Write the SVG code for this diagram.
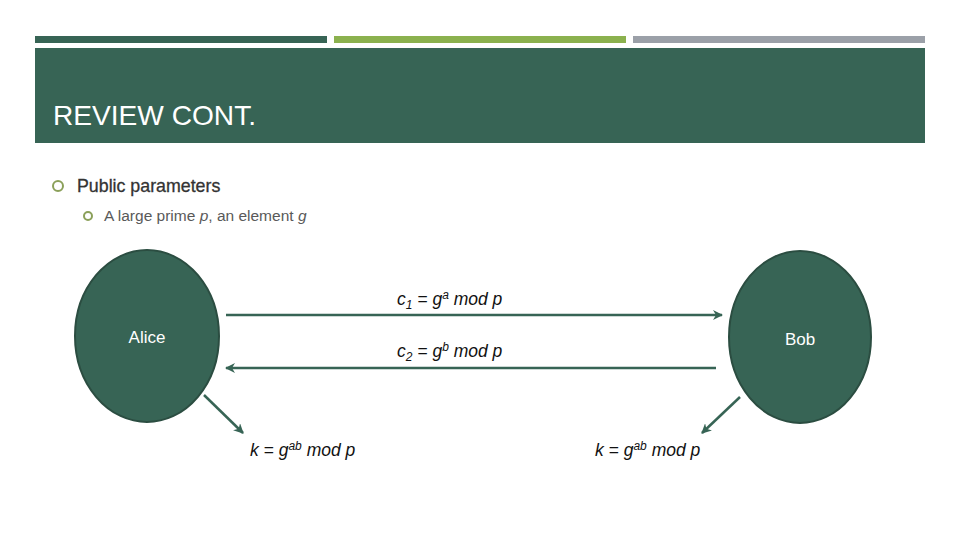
<svg xmlns="http://www.w3.org/2000/svg" width="960" height="540" viewBox="0 0 960 540">
<defs>
<style>
.t{font-family:"Liberation Sans",Arial,sans-serif}
.node{fill:#376455;stroke:#2b4d41;stroke-width:2}
.nl{fill:#ffffff;font-size:17px}
.lbl{fill:#111111;font-size:17.5px;font-style:italic}
.conn{stroke:#376455;stroke-width:2.5;fill:none;marker-end:url(#ah)}
.bul{fill:none;stroke:#8ba05a;stroke-width:2}
</style>
<marker id="ah" viewBox="0 0 10 10" refX="9" refY="5" markerWidth="4" markerHeight="4" orient="auto" markerUnits="strokeWidth">
<path d="M0,0 L10,5 L0,10 L3,5 z" fill="#376455"/>
</marker>
</defs>
<rect width="960" height="540" fill="#ffffff"/>
<rect x="35" y="36" width="292" height="7" fill="#376455"/>
<rect x="334" y="36" width="292" height="7" fill="#8bb14e"/>
<rect x="633" y="36" width="292" height="7" fill="#9ba0a8"/>
<rect x="35" y="48" width="890" height="95" fill="#376455"/>
<text class="t" x="53" y="125" font-size="28" fill="#ffffff" textLength="203" lengthAdjust="spacingAndGlyphs">REVIEW CONT.</text>
<circle class="bul" cx="58" cy="186" r="5"/>
<text class="t" x="77" y="192" font-size="17.8" fill="#333333" stroke="#333333" stroke-width="0.3">Public parameters</text>
<circle class="bul" cx="88" cy="216" r="4"/>
<text class="t" x="104" y="221" font-size="15.5" fill="#595959">A large prime <tspan font-style="italic">p</tspan>, an element <tspan font-style="italic">g</tspan></text>
<g id="alice">
<ellipse class="node" cx="147" cy="336" rx="72" ry="86"/>
<text class="t nl" x="147" y="343" text-anchor="middle">Alice</text>
</g>
<g id="bob">
<ellipse class="node" cx="800" cy="337" rx="71" ry="86"/>
<text class="t nl" x="800" y="345" text-anchor="middle">Bob</text>
</g>
<g id="connectors">
<line class="conn" x1="226" y1="315" x2="722" y2="315"/>
<line class="conn" x1="716" y1="368" x2="226" y2="368"/>
<line class="conn" x1="204" y1="395" x2="243" y2="433"/>
<line class="conn" x1="740" y1="397" x2="702" y2="433"/>
</g>
<g id="labels">
<text class="t lbl" x="397" y="305">c<tspan font-size="12" dy="4">1</tspan><tspan dy="-4"> = g</tspan><tspan font-size="12" dy="-6">a</tspan><tspan dy="6"> mod p</tspan></text>
<text class="t lbl" x="397" y="357">c<tspan font-size="12" dy="4">2</tspan><tspan dy="-4"> = g</tspan><tspan font-size="12" dy="-6">b</tspan><tspan dy="6"> mod p</tspan></text>
<text class="t lbl" x="250" y="456">k = g<tspan font-size="12" dy="-6">ab</tspan><tspan dy="6"> mod p</tspan></text>
<text class="t lbl" x="595" y="456">k = g<tspan font-size="12" dy="-6">ab</tspan><tspan dy="6"> mod p</tspan></text>
</g>
</svg>
